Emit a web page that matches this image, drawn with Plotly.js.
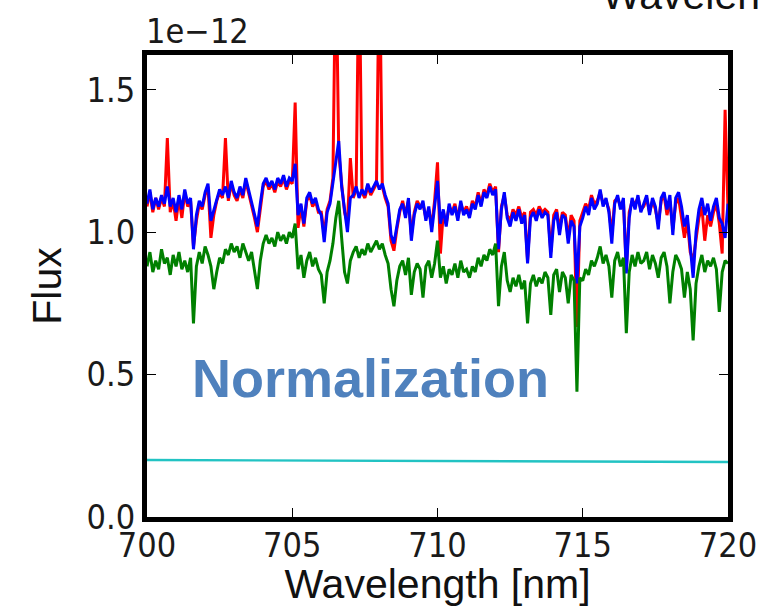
<!DOCTYPE html>
<html>
<head>
<meta charset="utf-8">
<script src="https://cdn.plot.ly/plotly-3.0.1.min.js"></script>
<style>html,body{margin:0;padding:0;background:#fff;}#chart{width:758px;height:607px;}</style>
</head>
<body>
<div id="chart"></div>
<script>
// Wavelength grid (nm): sampling start and step
const WL_START = 700.0;
const WL_STEP = 0.1;

// Flux in units of 1e-12
const fluxRed = [
  1.09, 1.14, 1.07, 1.12, 1.08, 1.12, 1.09, 1.33, 1.07, 1.11, 1.04,
  1.12, 1.05, 1.14, 1.09, 1.11, 0.95, 1.04, 1.10, 1.08, 1.13,
  1.16, 0.98, 1.06, 1.11, 1.14, 1.12, 1.33, 1.11, 1.17, 1.13,
  1.11, 1.15, 1.12, 1.18, 1.14, 1.09, 1.05, 1.00, 1.09, 1.16,
  1.18, 1.15, 1.17, 1.14, 1.18, 1.16, 1.19, 1.15, 1.18, 1.17,
  1.455, 1.015, 1.09, 1.02, 1.11, 1.13, 1.09, 1.11, 1.07, 1.07,
  0.99, 1.08, 1.11, 1.19, 2.0, 1.28, 1.17, 1.07, 1.03, 1.26,
  1.12, 1.15, 2.0, 1.14, 1.12, 1.16, 1.13, 1.15, 1.17, 2.0,
  1.16, 1.12, 1.09, 0.97, 0.935, 1.01, 1.07, 1.11, 1.06, 1.11,
  0.99, 1.07, 1.11, 1.09, 1.10, 1.05, 1.08, 1.02, 1.11, 1.245,
  0.925, 1.07, 1.03, 1.09, 1.07, 1.10, 1.05, 1.10, 1.07, 1.09,
  1.06, 1.11, 1.09, 1.14, 1.10, 1.15, 1.13, 1.17, 1.14, 1.16,
  0.93, 1.09, 1.13, 1.06, 1.04, 1.08, 1.06, 1.09, 1.05, 1.07,
  0.90, 1.07, 1.08, 1.06, 1.09, 1.07, 1.08, 1.07, 0.93, 1.06,
  1.08, 1.01, 1.07, 1.06, 0.98, 1.06, 1.04, 0.667, 1.04, 1.07,
  1.10, 1.08, 1.13, 1.10, 1.11, 1.14, 1.10, 1.11, 1.08, 0.99,
  1.11, 1.12, 1.09, 1.11, 0.87, 1.07, 1.11, 1.10, 1.12, 1.08,
  1.09, 1.12, 1.07, 1.11, 1.08, 1.03, 1.11, 1.13, 1.06, 1.11,
  1.01, 1.10, 1.12, 1.05, 0.98, 1.04, 0.93, 0.90, 0.97, 1.05,
  1.09, 0.97, 1.06, 1.02, 1.07, 1.10, 1.03, 0.925, 1.43, 1.08
];

const fluxBlue = [
  1.10, 1.15, 1.08, 1.12, 1.09, 1.13, 1.10, 1.16, 1.09, 1.12, 1.07,
  1.13, 1.08, 1.15, 1.10, 1.12, 0.94, 1.06, 1.11, 1.09, 1.14,
  1.17, 1.04, 1.08, 1.12, 1.15, 1.13, 1.16, 1.12, 1.18, 1.14,
  1.12, 1.16, 1.13, 1.19, 1.15, 1.10, 1.07, 1.02, 1.10, 1.17,
  1.19, 1.16, 1.18, 1.15, 1.19, 1.17, 1.20, 1.16, 1.19, 1.18,
  1.24, 1.06, 1.10, 1.03, 1.12, 1.14, 1.10, 1.12, 1.08, 1.06,
  0.965, 1.07, 1.10, 1.18, 1.26, 1.32, 1.16, 1.08, 1.00, 1.12,
  1.13, 1.16, 1.12, 1.15, 1.13, 1.17, 1.14, 1.16, 1.18, 1.15,
  1.17, 1.13, 1.10, 0.99, 0.96, 1.02, 1.08, 1.10, 1.05, 1.12,
  0.97, 1.06, 1.10, 1.08, 1.11, 1.04, 1.09, 1.00, 1.10, 1.18,
  1.03, 1.08, 1.02, 1.10, 1.06, 1.09, 1.04, 1.11, 1.06, 1.08,
  1.05, 1.10, 1.08, 1.13, 1.09, 1.14, 1.12, 1.16, 1.13, 1.15,
  0.94, 1.08, 1.14, 1.05, 1.02, 1.07, 1.04, 1.08, 1.03, 1.06,
  0.89, 1.05, 1.07, 1.04, 1.08, 1.05, 1.07, 1.06, 0.91, 1.04,
  1.07, 0.99, 1.06, 1.05, 0.96, 1.04, 1.02, 0.82, 1.02, 1.05,
  1.09, 1.06, 1.12, 1.08, 1.10, 1.15, 1.09, 1.12, 1.07, 0.96,
  1.10, 1.13, 1.08, 1.12, 0.855, 1.05, 1.12, 1.08, 1.13, 1.07,
  1.10, 1.13, 1.06, 1.12, 1.09, 1.01, 1.12, 1.14, 1.08, 1.13,
  0.99, 1.12, 1.14, 1.09, 1.02, 1.06, 0.95, 0.84, 1.00, 1.08,
  1.12, 1.06, 1.10, 1.04, 1.09, 1.12, 1.05, 1.03, 0.98, 1.10
];

const fluxGreen = [
  0.88, 0.93, 0.86, 0.90, 0.87, 0.94, 0.89, 0.91, 0.85, 0.92, 0.88,
  0.93, 0.87, 0.90, 0.86, 0.91, 0.68, 0.88, 0.93, 0.89, 0.95,
  0.92, 0.88, 0.80, 0.86, 0.91, 0.89, 0.94, 0.92, 0.96, 0.93,
  0.95, 0.91, 0.96, 0.93, 0.90, 0.93, 0.87, 0.80, 0.90, 0.96,
  0.99, 0.96, 0.98, 0.95, 1.00, 0.97, 0.99, 0.96, 1.00, 0.98,
  1.03, 0.87, 0.92, 0.84, 0.90, 0.93, 0.88, 0.91, 0.87, 0.85,
  0.75, 0.86, 0.90, 0.96, 1.05, 1.11, 0.98, 0.86, 0.82, 0.90,
  0.93, 0.95, 0.91, 0.94, 0.92, 0.96, 0.93, 0.95, 0.97, 0.94,
  0.96, 0.92, 0.89, 0.80, 0.74, 0.83, 0.88, 0.90, 0.85, 0.91,
  0.78, 0.86, 0.89, 0.87, 0.77, 0.88, 0.90, 0.84, 0.89, 0.97,
  0.84, 0.88, 0.82, 0.87, 0.85, 0.89, 0.84, 0.90, 0.86, 0.87,
  0.84, 0.88, 0.86, 0.91, 0.88, 0.92, 0.90, 0.94, 0.92, 0.96,
  0.74, 0.88, 0.93, 0.83, 0.79, 0.84, 0.81, 0.85, 0.80, 0.83,
  0.68, 0.82, 0.85, 0.81, 0.84, 0.82, 0.86, 0.84, 0.71, 0.85,
  0.87, 0.79, 0.86, 0.84, 0.75, 0.85, 0.83, 0.44, 0.84, 0.83,
  0.87, 0.85, 0.90, 0.88, 0.91, 0.95, 0.89, 0.92, 0.88, 0.77,
  0.90, 0.93, 0.88, 0.91, 0.645, 0.86, 0.92, 0.88, 0.93, 0.89,
  0.90, 0.93, 0.87, 0.92, 0.89, 0.84, 0.91, 0.93, 0.88, 0.75,
  0.86, 0.92, 0.90, 0.87, 0.77, 0.86, 0.80, 0.62, 0.82, 0.88,
  0.92, 0.86, 0.90, 0.88, 0.91, 0.87, 0.72, 0.86, 0.90, 0.89
];

// Normalization curve (two end points)
const normWave = [700, 720];
const normFlux = [0.200, 0.193];

const xTicks = [700, 705, 710, 715, 720];
const yTicks = [0.0, 0.5, 1.0, 1.5];

const wave = fluxBlue.map((_, i) => +(WL_START + i * WL_STEP).toFixed(2));

const tickFont = {family: 'DejaVu Sans Condensed, DejaVu Sans, sans-serif', size: 34, color: '#1a1a1a'};
const titleFont = {family: 'Liberation Sans, Arial, sans-serif', size: 41, color: '#111'};

const traces = [
  {x: wave, y: fluxRed, type: 'scatter', mode: 'lines', line: {color: '#ff0000', width: 3}, hoverinfo: 'skip'},
  {x: wave, y: fluxBlue, type: 'scatter', mode: 'lines', line: {color: '#0000ff', width: 3}, hoverinfo: 'skip'},
  {x: wave, y: fluxGreen, type: 'scatter', mode: 'lines', line: {color: '#008000', width: 3}, hoverinfo: 'skip'},
  {x: normWave, y: normFlux, type: 'scatter', mode: 'lines', line: {color: '#22c3c3', width: 2.4}, hoverinfo: 'skip'}
];

const layout = {
  width: 758, height: 607,
  margin: {l: 147, r: 30, t: 55, b: 90, pad: 0},
  paper_bgcolor: '#fff', plot_bgcolor: '#fff',
  showlegend: false,
  xaxis: {
    range: [700, 720], tickvals: xTicks, ticktext: xTicks.map(String),
    ticks: 'inside', ticklen: 9, tickwidth: 1.3, tickcolor: '#000',
    showline: true, linewidth: 5, linecolor: '#000', mirror: 'ticks',
    showgrid: false, zeroline: false, tickfont: tickFont, ticklabelstandoff: -6,
    title: {text: 'Wavelength [nm]', font: titleFont, standoff: 12}
  },
  yaxis: {
    range: [0, 1.622], tickvals: yTicks, ticktext: yTicks.map(v => v.toFixed(1)),
    ticks: 'inside', ticklen: 9, tickwidth: 1.3, tickcolor: '#000',
    showline: true, linewidth: 5, linecolor: '#000', mirror: 'ticks',
    showgrid: false, zeroline: false, tickfont: tickFont,
    title: {text: 'Flux', font: titleFont, standoff: 14}
  },
  annotations: [
    {text: '1e\u221212', xref: 'paper', yref: 'paper', x: -0.005, y: 1.052, xanchor: 'left', yanchor: 'middle',
     showarrow: false, font: tickFont},
    {text: 'Normalization', xref: 'paper', yref: 'paper', x: 0.385, y: 0.30, xanchor: 'center', yanchor: 'middle',
     showarrow: false, font: {family: 'Liberation Sans, Arial, sans-serif', size: 54, color: '#4f81bd', weight: 'bold'}},
    {text: 'Wavelength [nm]', xref: 'paper', yref: 'paper', x: 0.78, y: 1.075, xanchor: 'left', yanchor: 'bottom',
     showarrow: false, font: titleFont}
  ]
};

Plotly.newPlot('chart', traces, layout, {staticPlot: true, displayModeBar: false});
</script>
</body>
</html>
